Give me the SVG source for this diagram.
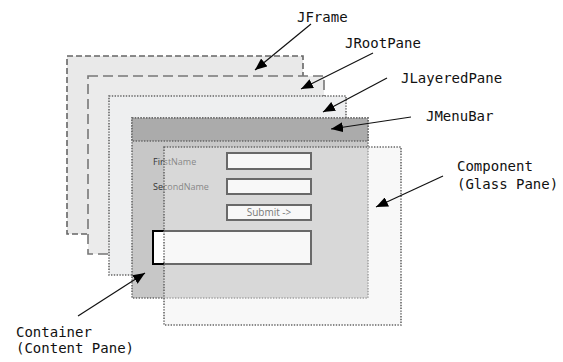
<svg xmlns="http://www.w3.org/2000/svg" width="563" height="362" viewBox="0 0 563 362">
<style>
.lbl{font-family:"DejaVu Sans Mono","Liberation Mono",monospace;font-size:14px;fill:#111}
.form{font-family:"Open Sans","Liberation Sans",sans-serif;font-size:9px;fill:#333}
.dot{stroke:#666;stroke-width:1.6;stroke-dasharray:1.4 1.4}
.field{fill:#ffffff;stroke:#000;stroke-width:2}
.conn{stroke:#111;stroke-width:1.2;fill:none;marker-end:url(#ah)}
</style>
<defs>
<marker id="ah" viewBox="0 0 12 10" refX="12" refY="5" markerWidth="12" markerHeight="10" markerUnits="userSpaceOnUse" orient="auto">
<path d="M0,0 L12,5 L0,10 Z" fill="#000"/>
</marker>
</defs>
<rect width="563" height="362" fill="#fff"/>
<g id="jframe"><rect x="67" y="56" width="236" height="178" fill="#e9e9e9" stroke="#666" stroke-width="1.6" stroke-dasharray="6 3"/></g>
<g id="jrootpane"><rect x="88" y="76" width="236" height="178" fill="#ebebeb" stroke="#777" stroke-width="1.6" stroke-dasharray="10 5"/></g>
<g id="jlayeredpane"><rect x="109" y="96" width="237" height="179" fill="#eeeff0" class="dot"/></g>
<g id="contentpane">
<rect x="132" y="118" width="236" height="180" fill="#c7c7c7" class="dot"/>
<text class="form" x="153" y="165">FirstName</text>
<text class="form" x="153" y="190">SecondName</text>
<rect class="field" x="227" y="153" width="84" height="16"/>
<rect class="field" x="227" y="179" width="84" height="15"/>
<rect class="field" x="227" y="205" width="84" height="15"/>
<text class="form" x="269" y="216" text-anchor="middle" style="font-size:10px;fill:#111">Submit -&gt;</text>
<rect class="field" x="153" y="231" width="158" height="33"/>
</g>
<g id="jmenubar"><rect x="132" y="118" width="236" height="23" fill="#ababab" class="dot"/></g>
<g id="glasspane"><rect x="164" y="147" width="237" height="178" fill="#efefef" fill-opacity="0.44" class="dot"/></g>
<g id="connectors">
<line class="conn" x1="311" y1="24" x2="255" y2="70"/>
<line class="conn" x1="373" y1="53" x2="301" y2="89"/>
<line class="conn" x1="387" y1="78" x2="323" y2="112"/>
<line class="conn" x1="411" y1="117" x2="331" y2="129"/>
<line class="conn" x1="443" y1="176" x2="376" y2="207"/>
<line class="conn" x1="78" y1="316" x2="145" y2="273"/>
</g>
<g id="labels">
<text class="lbl" x="297" y="22">JFrame</text>
<text class="lbl" x="345" y="48">JRootPane</text>
<text class="lbl" x="401" y="83">JLayeredPane</text>
<text class="lbl" x="426" y="121">JMenuBar</text>
<text class="lbl" x="457" y="171">Component</text>
<text class="lbl" x="457" y="189">(Glass Pane)</text>
<text class="lbl" x="16" y="337">Container</text>
<text class="lbl" x="16" y="353">(Content Pane)</text>
</g>
</svg>
